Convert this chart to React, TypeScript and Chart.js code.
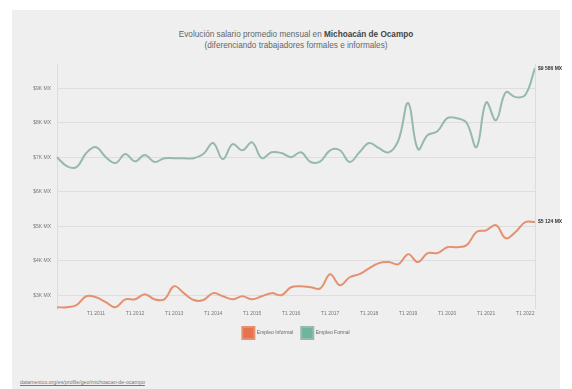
import React, { useEffect, useRef } from "react";
import { Chart, registerables } from "chart.js";

Chart.register(...registerables);

const quarters: string[] = [];
for (let y = 2010; y <= 2022; y++) {
  for (let q = 1; q <= 4; q++) {
    if (y === 2022 && q > 2) break;
    quarters.push(`T${q} ${y}`);
  }
}

const informal = [
  2.65, 2.65, 2.71, 2.97, 2.94, 2.8, 2.65, 2.88, 2.88, 3.03,
  2.88, 2.88, 3.26, 3.06, 2.86, 2.86, 3.06, 2.97, 2.88, 2.97,
  2.88, 2.97, 3.06, 3.0, 3.23, 3.26, 3.23, 3.2, 3.61, 3.29,
  3.52, 3.61, 3.78, 3.93, 3.96, 3.9, 4.19, 3.96, 4.22, 4.22,
  4.39, 4.39, 4.45, 4.83, 4.88, 5.03, 4.65, 4.83, 5.12, 5.12,
];

const formal = [
  7.0, 6.74, 6.71, 7.12, 7.29, 7.0, 6.83, 7.09, 6.88, 7.06,
  6.86, 6.97, 6.97, 6.97, 6.97, 7.09, 7.41, 6.94, 7.38, 7.2,
  7.43, 6.97, 7.14, 7.12, 7.0, 7.14, 6.86, 6.88, 7.2, 7.2,
  6.86, 7.14, 7.41, 7.26, 7.14, 7.49, 8.57, 7.23, 7.64, 7.75,
  8.13, 8.13, 7.99, 7.29, 8.59, 8.07, 8.88, 8.74, 8.8, 9.58,
];

const seriesNames = ["Empleo Informal", "Empleo Formal"];
const endLabels = ["$5 124 MX", "$9 586 MX"];
const yTicks = [3, 4, 5, 6, 7, 8, 9];

const FONT = "'Liberation Sans Narrow', 'Liberation Sans', sans-serif";

export default function App() {
  const ref = useRef<HTMLCanvasElement | null>(null);

  useEffect(() => {
    document.body.style.margin = "0";
    const canvas = ref.current!;
    const edgePlugin = {
      id: "edges",
      afterDatasetsDraw(chart: any) {
        const { ctx, chartArea } = chart;
        ctx.save();
        ctx.strokeStyle = "#dcdcdc";
        ctx.lineWidth = 1;
        ctx.beginPath();
        ctx.moveTo(Math.round(chartArea.right) + 0.5, chartArea.top);
        ctx.lineTo(Math.round(chartArea.right) + 0.5, chartArea.bottom);
        ctx.stroke();
        ctx.font = `bold 5px ${FONT}`;
        ctx.fillStyle = "#333";
        ctx.textBaseline = "middle";
        chart.data.datasets.forEach((ds: any, i: number) => {
          const meta = chart.getDatasetMeta(i);
          const pt = meta.data[meta.data.length - 1];
          ctx.fillText(endLabels[i], pt.x + 3, pt.y);
        });
        ctx.restore();
      },
    };
    const chart = new Chart(canvas, {
      type: "line",
      data: {
        labels: quarters,
        datasets: [
          {
            label: seriesNames[0],
            data: informal,
            borderColor: "#e3916f",
            backgroundColor: "#e8714f",
            borderWidth: 2,
            pointRadius: 0,
            tension: 0.4,
          },
          {
            label: seriesNames[1],
            data: formal,
            borderColor: "#96b9ac",
            backgroundColor: "#6db59b",
            borderWidth: 2,
            pointRadius: 0,
            tension: 0.4,
          },
        ],
      },
      options: {
        animation: false,
        responsive: false,
        devicePixelRatio: 1,
        layout: { padding: { left: 0, right: 37, top: 9, bottom: 0 } },
        plugins: {
          legend: {
            position: "bottom",
            fullSize: false,
            labels: {
              boxWidth: 12,
              boxHeight: 12,
              padding: 8,
              color: "#666",
              font: { size: 5, family: FONT },
            },
          },
          tooltip: { enabled: false },
          title: { display: false },
        },
        scales: {
          x: {
            grid: { display: false, drawTicks: false },
            border: { display: false },
            ticks: {
              autoSkip: false,
              maxRotation: 0,
              padding: 2,
              color: "#777",
              font: { size: 5, family: FONT },
              callback: (_v: any, i: number) =>
                i % 4 === 0 && i >= 4 ? quarters[i] : "",
            },
          },
          y: {
            min: 2.6,
            max: 9.7,
            grid: { color: "#dedede", lineWidth: 1, drawTicks: false },
            border: { display: true, color: "#dcdcdc" },
            afterFit: (s: any) => {
              s.width = 45;
            },
            afterBuildTicks: (s: any) => {
              s.ticks = yTicks.map((v) => ({ value: v }));
            },
            ticks: {
              padding: 6,
              color: "#777",
              font: { size: 5, family: FONT },
              callback: (v: any) => `$${v}K MX`,
            },
          },
        },
      },
      plugins: [edgePlugin],
    });
    return () => chart.destroy();
  }, []);

  return (
    <div style={{ position: "relative", width: 572, height: 389, background: "#fff", overflow: "hidden" }}>
      <div style={{ position: "absolute", left: 12, top: 10, width: 548, height: 379, background: "#efefef" }} />
      <div
        style={{
          position: "absolute",
          left: 57,
          top: 29,
          width: 478,
          textAlign: "center",
          fontFamily: FONT,
          fontSize: 8.2,
          lineHeight: "11px",
          color: "#666",
        }}
      >
        Evolución salario promedio mensual en <b style={{ color: "#444" }}>Michoacán de Ocampo</b>
        <br />
        (diferenciando trabajadores formales e informales)
      </div>
      <canvas
        ref={ref}
        width={560}
        height={294}
        style={{ position: "absolute", left: 12, top: 55, width: 560, height: 294 }}
      />
      <div
        style={{
          position: "absolute",
          left: 20,
          top: 379,
          fontFamily: FONT,
          fontSize: 5.3,
          color: "#777",
          textDecoration: "underline",
        }}
      >
        datamexico.org/es/profile/geo/michoacan-de-ocampo
      </div>
    </div>
  );
}
